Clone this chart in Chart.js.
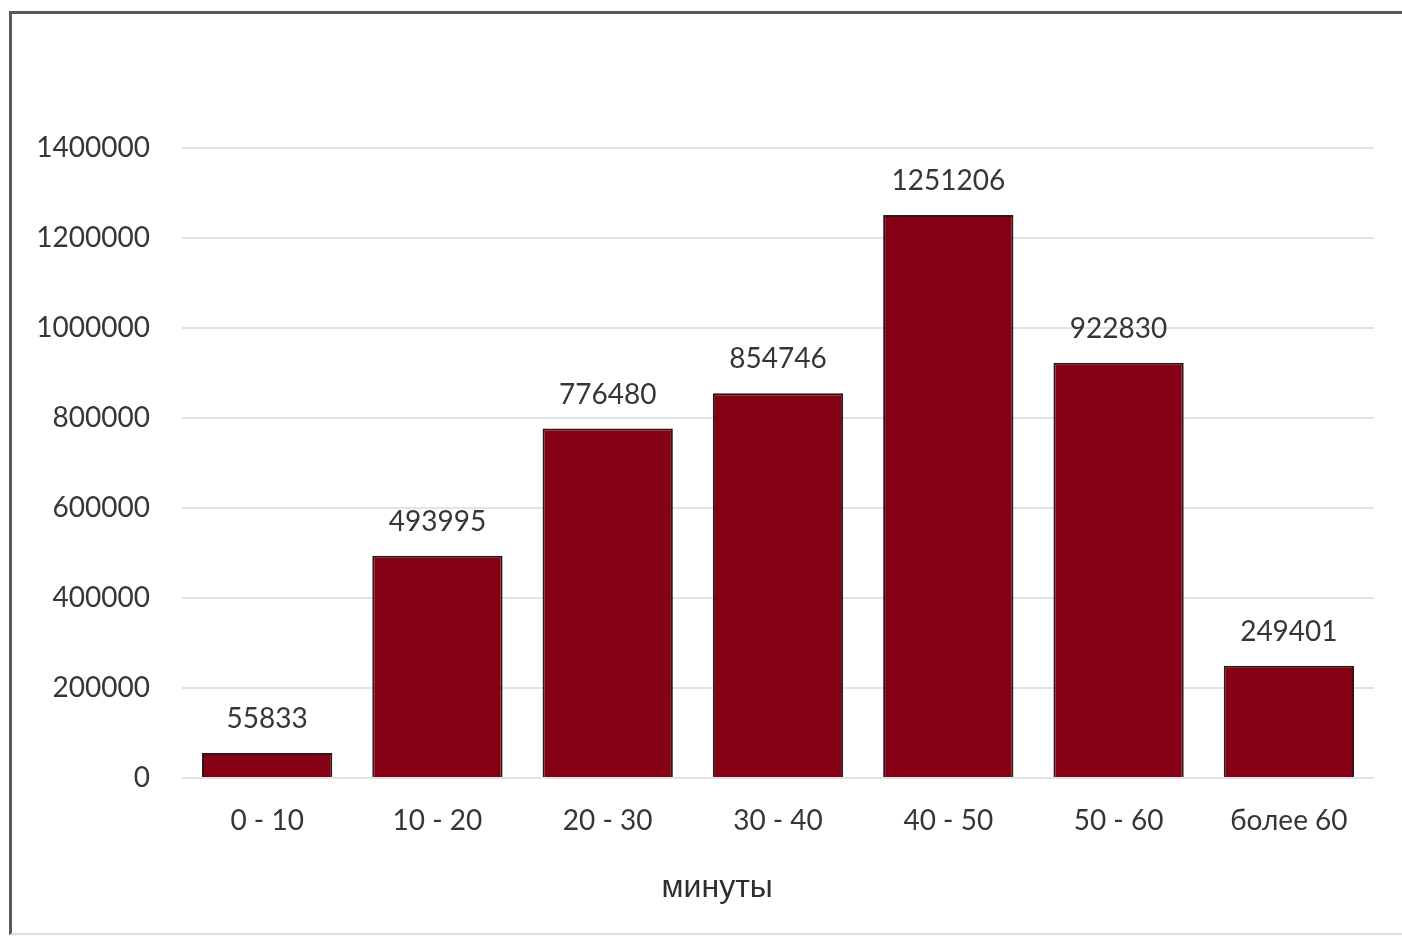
<!DOCTYPE html>
<html>
<head>
<meta charset="utf-8">
<script src="https://cdn.jsdelivr.net/npm/chart.js@4.4.0/dist/chart.umd.min.js"></script>
<style>
  html, body { margin: 0; padding: 0; background: #fff; }
  body { width: 1402px; height: 939px; position: relative; overflow: hidden; }
  #frame { position: absolute; left: 9px; top: 11px; width: 1420px; height: 924px;
           border-left: 3px solid #5a5a5a; border-top: 3px solid #5a5a5a;
           border-bottom: 2px solid #dcdcdc; box-sizing: border-box; }
  #wrap { position: absolute; left: 0; top: 0; width: 1402px; height: 939px; }
</style>
</head>
<body>
<div id="frame"></div>
<div id="wrap"><canvas id="c" width="1402" height="939"></canvas></div>
<script>
const categories = ["0 - 10", "10 - 20", "20 - 30", "30 - 40", "40 - 50", "50 - 60", "более 60"];
const values = [55833, 493995, 776480, 854746, 1251206, 922830, 249401];
const yTicks = [0, 200000, 400000, 600000, 800000, 1000000, 1200000, 1400000];
const axisTitle = "минуты";

const textColor = "#363636";
const tickFont = { family: "Lato, 'Open Sans', sans-serif", size: 28 };

const valueLabels = {
  id: "valueLabels",
  afterDatasetsDraw(chart) {
    const ctx = chart.ctx;
    const meta = chart.getDatasetMeta(0);
    ctx.save();
    ctx.font = "28px Lato, 'Open Sans', sans-serif";
    ctx.fillStyle = textColor;
    ctx.textAlign = "center";
    ctx.textBaseline = "middle";
    meta.data.forEach((bar, i) => {
      ctx.fillText(String(values[i]), bar.x, bar.y - 34);
    });
    ctx.restore();
  }
};

const xTitle = {
  id: "xTitle",
  afterDraw(chart) {
    const ctx = chart.ctx;
    const a = chart.chartArea;
    ctx.save();
    ctx.font = "32px 'Liberation Sans', Arial, sans-serif";
    ctx.fillStyle = "#2e2e2e";
    ctx.textAlign = "center";
    ctx.textBaseline = "middle";
    ctx.fillText(axisTitle, a.left + (a.right - a.left) * 0.449, a.bottom + 110);
    ctx.restore();
  }
};

new Chart(document.getElementById("c"), {
  type: "bar",
  data: {
    labels: categories,
    datasets: [{
      data: values,
      backgroundColor: "#850014",
      borderColor: "#2e1616",
      borderWidth: 2,
      borderSkipped: "bottom",
      categoryPercentage: 1.0,
      barPercentage: 0.765
    }]
  },
  options: {
    responsive: false,
    animation: false,
    layout: { padding: { left: 0, right: 28, top: 148, bottom: 0 } },
    plugins: { legend: { display: false }, tooltip: { enabled: false }, title: { display: false } },
    scales: {
      x: {
        grid: { display: false, drawTicks: false },
        border: { display: false },
        ticks: { color: textColor, font: tickFont, padding: 26, maxRotation: 0, autoSkip: false },
        afterFit(scale) { scale.height = 161; }
      },
      y: {
        min: 0,
        max: 1400000,
        afterBuildTicks(scale) { scale.ticks = yTicks.map(v => ({ value: v })); },
        grid: { color: "#e3e3e3", lineWidth: 2, drawTicks: false },
        border: { display: false },
        ticks: { color: textColor, font: tickFont, padding: 32, callback: v => String(v) },
        afterFit(scale) { scale.width = 182; }
      }
    }
  },
  plugins: [valueLabels, xTitle]
});
</script>
</body>
</html>
